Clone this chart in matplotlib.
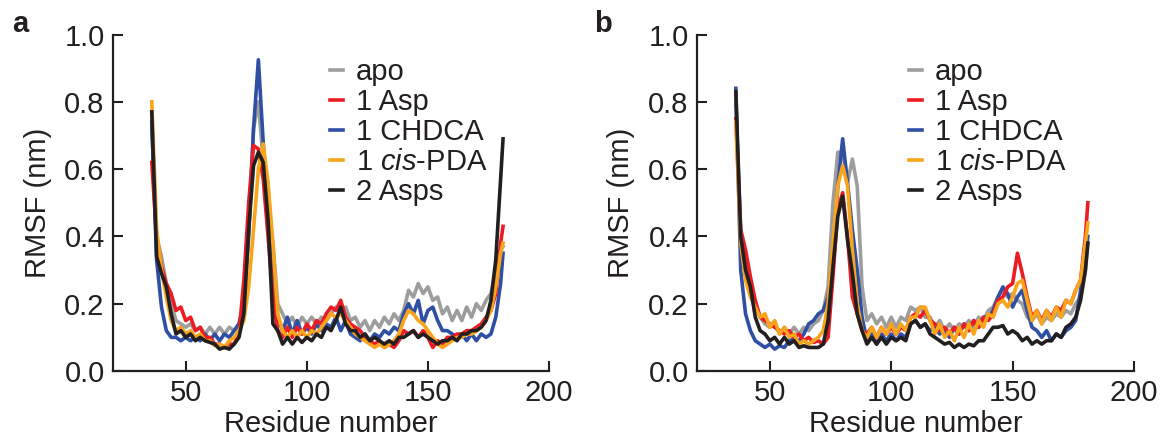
import numpy as np
import matplotlib
matplotlib.use("Agg")
import matplotlib.pyplot as plt

plt.rcParams["font.family"] = ["Liberation Sans", "DejaVu Sans"]
plt.rcParams["mathtext.fontset"] = "custom"
plt.rcParams["mathtext.rm"] = "Liberation Sans"
plt.rcParams["mathtext.it"] = "Liberation Sans:italic"

# residue numbers (every second residue, plus the C-terminal one)
residues = list(range(36, 181, 2)) + [181]

labels = ["apo", "1 Asp", "1 CHDCA", "1 $\\mathit{cis}$-PDA", "2 Asps"]
colors = ["#9d9d9d", "#ed1c24", "#2e4fa3", "#f9a51b", "#231f20"]

# panel a
a_apo = [0.72, 0.40, 0.34, 0.26, 0.20, 0.15, 0.14, 0.13, 0.14, 0.12,
         0.13, 0.11, 0.13, 0.11, 0.13, 0.11, 0.13, 0.12, 0.14, 0.20,
         0.45, 0.72, 0.80, 0.62, 0.50, 0.38, 0.20, 0.17, 0.14, 0.16,
         0.13, 0.16, 0.14, 0.16, 0.14, 0.16, 0.15, 0.17, 0.19, 0.18,
         0.19, 0.15, 0.16, 0.13, 0.15, 0.12, 0.15, 0.13, 0.16, 0.14,
         0.17, 0.15, 0.18, 0.24, 0.22, 0.26, 0.23, 0.25, 0.21, 0.22,
         0.17, 0.19, 0.15, 0.18, 0.15, 0.19, 0.16, 0.20, 0.18, 0.21,
         0.23, 0.30, 0.36, 0.37]
a_asp = [0.62, 0.40, 0.31, 0.26, 0.23, 0.18, 0.19, 0.15, 0.16, 0.12,
         0.13, 0.10, 0.10, 0.08, 0.08, 0.07, 0.08, 0.08, 0.11, 0.27,
         0.50, 0.67, 0.66, 0.57, 0.40, 0.22, 0.12, 0.10, 0.13, 0.10,
         0.13, 0.11, 0.14, 0.12, 0.15, 0.14, 0.17, 0.19, 0.18, 0.21,
         0.16, 0.14, 0.13, 0.12, 0.10, 0.09, 0.08, 0.09, 0.07, 0.08,
         0.07, 0.09, 0.12, 0.11, 0.12, 0.10, 0.12, 0.10, 0.07, 0.09,
         0.08, 0.10, 0.10, 0.11, 0.11, 0.12, 0.12, 0.13, 0.14, 0.16,
         0.18, 0.23, 0.38, 0.43]
a_chdca = [0.74, 0.33, 0.19, 0.12, 0.10, 0.10, 0.09, 0.10, 0.09, 0.10,
           0.09, 0.11, 0.09, 0.11, 0.09, 0.11, 0.10, 0.12, 0.14, 0.20,
           0.40, 0.72, 0.925, 0.68, 0.47, 0.32, 0.16, 0.12, 0.16, 0.11,
           0.15, 0.11, 0.13, 0.11, 0.14, 0.12, 0.14, 0.13, 0.16, 0.12,
           0.15, 0.11, 0.10, 0.09, 0.11, 0.09, 0.11, 0.10, 0.12, 0.11,
           0.13, 0.12, 0.17, 0.20, 0.17, 0.21, 0.14, 0.18, 0.19, 0.15,
           0.12, 0.12, 0.11, 0.10, 0.11, 0.09, 0.11, 0.09, 0.11, 0.10,
           0.11, 0.16, 0.26, 0.35]
a_pda = [0.80, 0.42, 0.30, 0.22, 0.15, 0.12, 0.13, 0.11, 0.12, 0.10,
         0.11, 0.09, 0.09, 0.075, 0.08, 0.07, 0.09, 0.10, 0.12, 0.15,
         0.25, 0.42, 0.60, 0.675, 0.56, 0.38, 0.17, 0.12, 0.10, 0.12,
         0.10, 0.12, 0.10, 0.12, 0.11, 0.13, 0.15, 0.17, 0.16, 0.17,
         0.15, 0.13, 0.11, 0.10, 0.09, 0.08, 0.07, 0.08, 0.07, 0.08,
         0.09, 0.11, 0.15, 0.18, 0.17, 0.15, 0.14, 0.12, 0.10, 0.08,
         0.07, 0.08, 0.09, 0.10, 0.10, 0.11, 0.11, 0.12, 0.13, 0.15,
         0.18, 0.25, 0.35, 0.38]
a_2asp = [0.77, 0.34, 0.29, 0.25, 0.17, 0.11, 0.12, 0.10, 0.11, 0.09,
          0.10, 0.09, 0.085, 0.08, 0.065, 0.07, 0.065, 0.08, 0.10, 0.17,
          0.42, 0.61, 0.65, 0.62, 0.45, 0.14, 0.12, 0.08, 0.10, 0.08,
          0.10, 0.085, 0.10, 0.09, 0.11, 0.10, 0.13, 0.12, 0.15, 0.19,
          0.14, 0.12, 0.12, 0.10, 0.11, 0.09, 0.10, 0.09, 0.08, 0.09,
          0.08, 0.10, 0.10, 0.11, 0.12, 0.10, 0.11, 0.10, 0.09, 0.08,
          0.09, 0.09, 0.10, 0.09, 0.11, 0.11, 0.12, 0.12, 0.13, 0.15,
          0.21, 0.33, 0.57, 0.69]

# panel b
b_apo = [0.80, 0.42, 0.33, 0.27, 0.20, 0.16, 0.14, 0.13, 0.14, 0.11,
         0.13, 0.11, 0.13, 0.11, 0.13, 0.12, 0.14, 0.15, 0.18, 0.25,
         0.50, 0.65, 0.65, 0.56, 0.63, 0.55, 0.25, 0.15, 0.17, 0.14,
         0.16, 0.13, 0.16, 0.13, 0.16, 0.15, 0.19, 0.18, 0.19, 0.16,
         0.16, 0.13, 0.15, 0.12, 0.14, 0.12, 0.14, 0.13, 0.15, 0.13,
         0.16, 0.15, 0.18, 0.19, 0.22, 0.24, 0.22, 0.23, 0.21, 0.20,
         0.16, 0.15, 0.17, 0.14, 0.16, 0.15, 0.17, 0.16, 0.18, 0.17,
         0.20, 0.22, 0.30, 0.38]
b_asp = [0.75, 0.42, 0.36, 0.28, 0.21, 0.16, 0.15, 0.14, 0.13, 0.12,
         0.11, 0.12, 0.10, 0.11, 0.09, 0.10, 0.085, 0.09, 0.08, 0.10,
         0.28, 0.48, 0.53, 0.40, 0.22, 0.17, 0.12, 0.11, 0.13, 0.10,
         0.13, 0.11, 0.13, 0.11, 0.13, 0.12, 0.16, 0.17, 0.16, 0.18,
         0.15, 0.14, 0.12, 0.13, 0.11, 0.13, 0.11, 0.14, 0.12, 0.15,
         0.13, 0.16, 0.15, 0.17, 0.21, 0.22, 0.25, 0.26, 0.35, 0.29,
         0.22, 0.16, 0.18, 0.15, 0.18, 0.16, 0.19, 0.18, 0.21, 0.20,
         0.24, 0.27, 0.40, 0.50]
b_chdca = [0.84, 0.30, 0.17, 0.12, 0.09, 0.08, 0.07, 0.08, 0.065, 0.075,
           0.07, 0.09, 0.10, 0.09, 0.11, 0.14, 0.15, 0.17, 0.18, 0.22,
           0.32, 0.55, 0.69, 0.56, 0.42, 0.30, 0.16, 0.09, 0.11, 0.08,
           0.11, 0.09, 0.11, 0.09, 0.11, 0.10, 0.14, 0.15, 0.13, 0.14,
           0.12, 0.13, 0.11, 0.12, 0.10, 0.13, 0.11, 0.14, 0.12, 0.15,
           0.13, 0.16, 0.16, 0.18, 0.22, 0.25, 0.23, 0.19, 0.22, 0.24,
           0.18, 0.13, 0.12, 0.10, 0.12, 0.09, 0.11, 0.10, 0.12, 0.13,
           0.15, 0.24, 0.33, 0.40]
b_pda = [0.74, 0.38, 0.27, 0.22, 0.19, 0.16, 0.17, 0.13, 0.15, 0.11,
         0.13, 0.10, 0.11, 0.08, 0.09, 0.08, 0.09, 0.10, 0.12, 0.20,
         0.38, 0.55, 0.61, 0.55, 0.36, 0.20, 0.12, 0.10, 0.13, 0.10,
         0.13, 0.11, 0.14, 0.11, 0.14, 0.12, 0.16, 0.16, 0.19, 0.19,
         0.15, 0.11, 0.14, 0.10, 0.12, 0.09, 0.13, 0.10, 0.14, 0.11,
         0.15, 0.13, 0.17, 0.16, 0.20, 0.21, 0.19, 0.22, 0.26, 0.27,
         0.21, 0.15, 0.18, 0.14, 0.18, 0.15, 0.19, 0.16, 0.21, 0.20,
         0.24, 0.27, 0.38, 0.44]
b_2asp = [0.83, 0.40, 0.30, 0.25, 0.16, 0.12, 0.11, 0.09, 0.10, 0.08,
          0.10, 0.08, 0.09, 0.07, 0.075, 0.07, 0.07, 0.07, 0.08, 0.15,
          0.31, 0.46, 0.52, 0.39, 0.29, 0.17, 0.12, 0.08, 0.10, 0.08,
          0.10, 0.08, 0.10, 0.09, 0.10, 0.09, 0.14, 0.15, 0.13, 0.14,
          0.11, 0.10, 0.09, 0.08, 0.085, 0.07, 0.08, 0.07, 0.08, 0.075,
          0.09, 0.09, 0.11, 0.13, 0.13, 0.135, 0.11, 0.12, 0.11, 0.09,
          0.10, 0.08, 0.09, 0.08, 0.09, 0.09, 0.11, 0.10, 0.13, 0.14,
          0.16, 0.21, 0.30, 0.38]

ink = "#231f20"
# drawing order: apo, CHDCA, Asp, cis-PDA, 2 Asps on top
zorders = [1, 3, 2, 4, 5]


def draw_panel(ax, series, tag, leg_x, tag_x):
    for vals, lab, col, z in zip(series, labels, colors, zorders):
        ax.plot(residues, vals, color=col, lw=2.6, label=lab, zorder=z,
                solid_joinstyle="round")
    ax.set_xlim(20, 200)
    ax.set_ylim(0, 1.0)
    ax.set_xticks([50, 100, 150, 200])
    ax.set_yticks(np.arange(0, 1.01, 0.2))
    ax.set_yticklabels(["0.0", "0.2", "0.4", "0.6", "0.8", "1.0"])
    for s in ["top", "right"]:
        ax.spines[s].set_visible(False)
    for s in ["left", "bottom"]:
        ax.spines[s].set_linewidth(1.6)
        ax.spines[s].set_color(ink)
    ax.tick_params(direction="in", length=7, width=1.5, colors=ink,
                   labelsize=21, pad=6)
    ax.set_xlabel("Residue number", fontsize=21, color=ink, labelpad=2)
    ax.set_ylabel("RMSF (nm)", fontsize=21, color=ink)
    ax.yaxis.set_label_coords(-0.141, 0.5)
    handles, labs = ax.get_legend_handles_labels()
    leg = ax.legend(handles, labs, loc="upper left", bbox_to_anchor=(leg_x, 0.93),
                    frameon=False, fontsize=21, handlelength=0.45,
                    handletextpad=0.45, labelspacing=0.07, borderpad=0,
                    borderaxespad=0)
    for t in leg.get_texts():
        t.set_color(ink)
    ax.text(tag_x, 1.03, tag, transform=ax.transAxes, fontsize=21,
            fontweight="bold", color=ink, ha="left", va="center")


fig = plt.figure(figsize=(11.64, 4.42), dpi=100)
ax1 = fig.add_axes([0.0971, 0.1606, 0.3746, 0.7613])
ax2 = fig.add_axes([0.5988, 0.1606, 0.3754, 0.7613])

draw_panel(ax1, [a_apo, a_asp, a_chdca, a_pda, a_2asp], "a", 0.497, -0.232)
draw_panel(ax2, [b_apo, b_asp, b_chdca, b_pda, b_2asp], "b", 0.485, -0.236)

fig.savefig("out.png", dpi=100)
